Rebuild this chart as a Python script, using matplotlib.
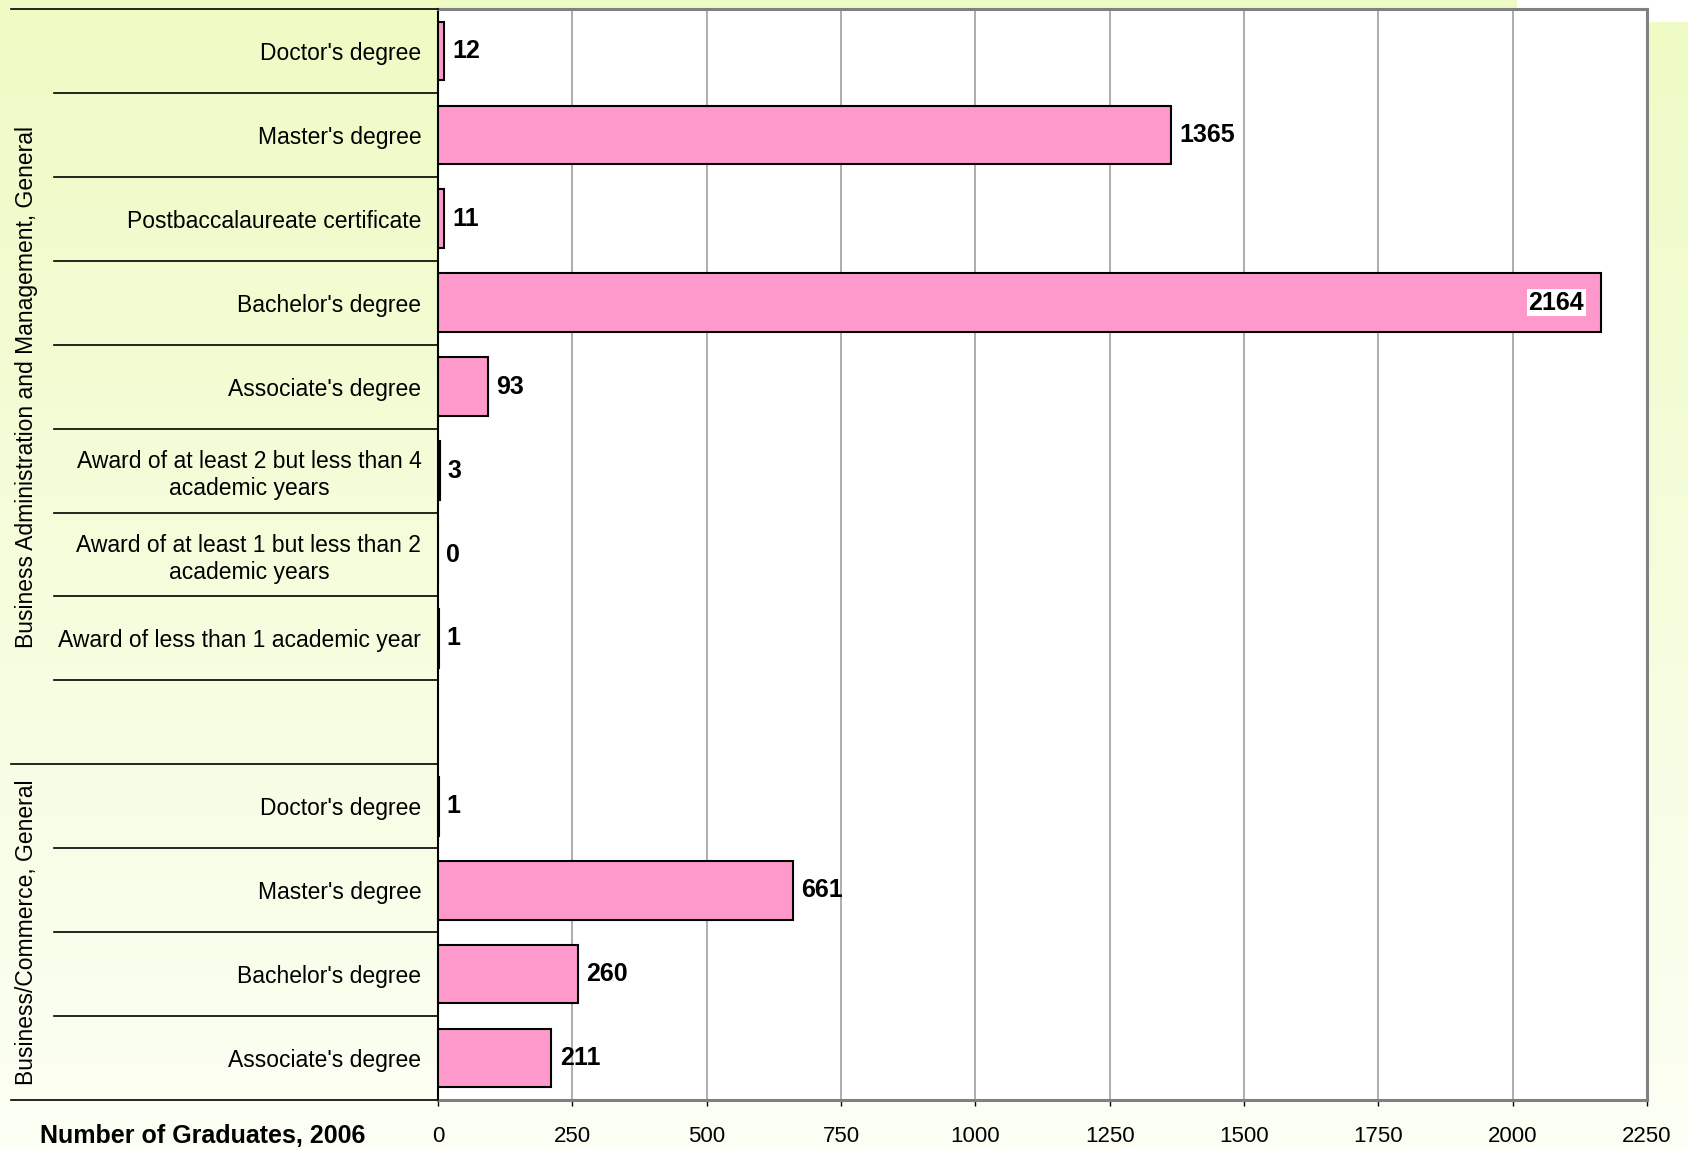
#!/usr/bin/env python3
"""
Horizontal bar chart: number of graduates by award level, 2006.
"""
import numpy as np
import matplotlib.pyplot as plt
from matplotlib.patches import Rectangle
from matplotlib.transforms import blended_transform_factory

plt.rcParams['font.family'] = ['Liberation Sans', 'DejaVu Sans']

# Data
admin_labels = ["Doctor's degree", "Master's degree", "Postbaccalaureate certificate",
                "Bachelor's degree", "Associate's degree",
                "Award of at least 2 but less than 4\nacademic years",
                "Award of at least 1 but less than 2\nacademic years",
                "Award of less than 1 academic year"]
admin_values = [12, 1365, 11, 2164, 93, 3, 0, 1]
commerce_labels = ["Doctor's degree", "Master's degree", "Bachelor's degree",
                   "Associate's degree"]
commerce_values = [1, 661, 260, 211]
group_names = ["Business Administration and Management, General",
               "Business/Commerce, General"]
x_ticks = [0, 250, 500, 750, 1000, 1250, 1500, 1750, 2000, 2250]
x_label = "Number of Graduates, 2006"

W, H = 1688, 1149
fig = plt.figure(figsize=(W / 100, H / 100), dpi=100)

# light yellow-green gradient background
bg = fig.add_axes([0, 0, 1, 1], zorder=-10)
top_c = np.array([238, 251, 196]) / 255
bot_c = np.array([252, 255, 244]) / 255
t = np.linspace(0, 1, 256)[:, None]
grad = top_c * (1 - t[..., None]) + bot_c * t[..., None]
grad = np.repeat(grad, 2, axis=1)
bg.imshow(grad, aspect='auto', extent=[0, 1, 0, 1])
bg.axis('off')
# white patch top-right (logo area)
fig.patches.append(Rectangle((1517 / W, 1 - 22 / H), 1, 1, transform=fig.transFigure,
                             facecolor='white', edgecolor='none', zorder=-5))

ax = fig.add_axes([438 / W, 1 - 1100 / H, (1647 - 438) / W, (1100 - 9) / H])
ax.set_facecolor('white')

# slot positions: admin group, one empty slot, commerce group
n_admin = len(admin_labels)
admin_pos = list(range(n_admin))
commerce_pos = list(range(n_admin + 1, n_admin + 1 + len(commerce_labels)))
positions = admin_pos + commerce_pos
values = admin_values + commerce_values
labels = admin_labels + commerce_labels
n_slots = n_admin + 1 + len(commerce_labels)

ax.barh(positions, values, height=0.7, color='#FF99CC', edgecolor='black',
        linewidth=1.5, zorder=3)

ax.set_xlim(0, 2250)
ax.set_ylim(n_slots - 0.5, -0.5)
ax.set_xticks(x_ticks)
ax.set_xticklabels([str(v) for v in x_ticks], fontsize=16)
ax.tick_params(axis='x', direction='out', length=4, width=1, color='black', pad=15)
ax.set_yticks(positions)
ax.set_yticklabels(labels, fontsize=16.5, multialignment='center', linespacing=1.2)
ax.tick_params(axis='y', length=0, pad=12)
ax.xaxis.grid(True, color='#a0a0a0', linewidth=1.2, zorder=0)
ax.set_axisbelow(True)

for side in ['top', 'right', 'bottom']:
    ax.spines[side].set_color('#808080')
    ax.spines[side].set_linewidth(2.2)
ax.spines['left'].set_color('black')
ax.spines['left'].set_linewidth(1.5)

# value labels
for pos, val in zip(positions, values):
    if val > 0.9 * 2250:
        ax.annotate(str(val), xy=(val, pos), xytext=(-12, 0), textcoords='offset points',
                    ha='right', va='center', fontsize=18, fontweight='bold', zorder=5,
                    bbox=dict(facecolor='white', edgecolor='none', pad=1))
    else:
        ax.annotate(str(val), xy=(val, pos), xytext=(6, 0), textcoords='offset points',
                    ha='left', va='center', fontsize=18, fontweight='bold', zorder=5)

# separator lines in the label area
trans = blended_transform_factory(fig.transFigure, ax.transData)
x_axis_left = 438 / W
for b in range(n_slots + 1):
    y = b - 0.5
    # full-width lines at the outer edges and between the two groups
    if b in (0, n_admin + 1, n_slots):
        x0 = 11 / W
    else:
        x0 = 54 / W
    ax.plot([x0, x_axis_left], [y, y], color='black', linewidth=1.2,
            transform=trans, clip_on=False, zorder=4)

# group labels (rotated)
admin_center = (-0.5 + n_admin + 0.5) / 2
commerce_center = (commerce_pos[0] - 0.5 + commerce_pos[-1] + 0.5) / 2
ax.text(27 / W, admin_center, group_names[0], rotation=90, ha='center', va='center',
        fontsize=16.5, transform=trans)
ax.text(27 / W, commerce_center, group_names[1], rotation=90, ha='center', va='center',
        fontsize=16.5, transform=trans)

fig.text(40 / W, 1 - 1136 / H, x_label, ha='left', va='center', fontsize=18,
         fontweight='bold')

fig.savefig('out.png', dpi=100)
